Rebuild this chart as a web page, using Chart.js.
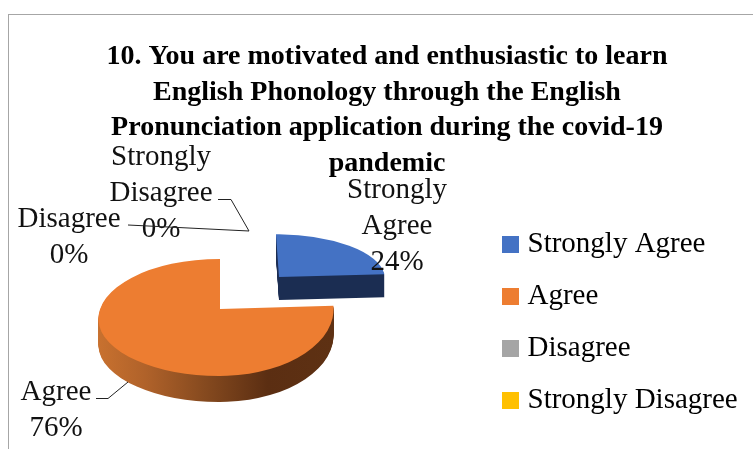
<!DOCTYPE html>
<html>
<head>
<meta charset="utf-8">
<script src="https://cdn.jsdelivr.net/npm/chart.js@4/dist/chart.umd.min.js"></script>
<style>
  body { margin: 0; background: #fff; }
  #wrap { position: relative; width: 753px; height: 449px; overflow: hidden; }
  #frame { position: absolute; left: 8px; top: 14px; right: -5px; bottom: -5px;
           border-top: 1px solid #a6a6a6; border-left: 1px solid #a6a6a6; }
  canvas { position: absolute; left: 0; top: 0; }
</style>
</head>
<body>
<div id="wrap">
  <canvas id="myChart" width="753" height="449"></canvas>
  <div id="frame"></div>
</div>
<script>
var categories = ['Strongly Agree', 'Agree', 'Disagree', 'Strongly Disagree'];
var values = [24, 76, 0, 0];
var colors = ['#4472c4', '#ed7d31', '#a5a5a5', '#ffc000'];
var titleLines = [
  '10. You are motivated and enthusiastic to learn',
  'English Phonology through the English',
  'Pronunciation application during the covid-19',
  'pandemic'
];

var serif = '"Liberation Serif", serif';
var labelSize = 29;
var lineGap = 36;

// fake 3d: every slice is shifted, flattened and extruded (per slice, fractions of radius)
var shiftX = [34, -25, 0, 0];
var shiftY = [-50, -18, 0, 0];
var scaleLeft = [0.87, 1, 1, 1];
var scaleRight = [0.87, 0.934, 1, 1];
var scaleUpLeft = [0.352, 0.494, 1, 1];
var scaleDownLeft = [0.352, 0.469, 1, 1];
var scaleUpRight = [0.352, 0.41, 1, 1];
var scaleDownRight = [0.352, 0.55, 1, 1];
var pivotLeft = [0, 10, 0, 0]; // left half bulges lower down, perspective look
var shear = [0.025, 0, 0, 0];
var depth = [23, 26, 0, 0];
var sideStops = [
  [[0, '#1b2d52'], [1, '#1b2d52']],
  [[0, '#c8712f'], [0.2, '#b0622a'], [0.45, '#864a1f'], [0.72, '#5b2e12'], [1, '#5e3113']]
];

// data label text blocks: centre x, first baseline
var labelX = [397, 56, 69, 161];
var labelY = [198, 400, 227, 165];
var labelWords = [['Strongly', 'Agree'], ['Agree'], ['Disagree'], ['Strongly', 'Disagree']];
var leaders = [
  [],
  [[96, 398.5], [108, 398.5], [128, 382]],
  [[128, 225], [249, 231]],
  [[218, 199.5], [231, 199.5], [249, 231]]
];

function drawSlice(chart, arc, i) {
  var ctx = chart.ctx;
  var ax = Math.round(arc.x + shiftX[i]);
  var ay = Math.round(arc.y + shiftY[i]);
  var saved = arc.options;
  var R = arc.outerRadius;

  function paint(dy, gradientStops) {
    [[-1, -1], [1, -1], [-1, 1], [1, 1]].forEach(function(q) {
      var isLeft = q[0] < 0;
      var sx = isLeft ? scaleLeft[i] : scaleRight[i];
      var sy = isLeft ? (q[1] < 0 ? scaleUpLeft[i] : scaleDownLeft[i])
                      : (q[1] < 0 ? scaleUpRight[i] : scaleDownRight[i]);
      var py = ay + (isLeft ? pivotLeft[i] : 0);
      ctx.save();
      ctx.beginPath();
      ctx.rect(isLeft ? ax - 400 : ax, (q[1] < 0 ? py - 400 : py) + dy, 400, 400);
      ctx.clip();
      ctx.translate(ax, py + dy);
      ctx.transform(sx, 0, shear[i], sy, 0, 0);
      ctx.translate(-arc.x, -arc.y);
      if (gradientStops) {
        // gradient runs over the whole width on screen, so undo the scale here
        var g = ctx.createLinearGradient(
          arc.x - R * scaleLeft[i] / sx, 0, arc.x + R * scaleRight[i] / sx, 0);
        gradientStops.forEach(function(s) { g.addColorStop(s[0], s[1]); });
        var o = Object.create(saved);
        o.backgroundColor = g;
        arc.options = o;
      }
      arc.draw(ctx);
      arc.options = saved;
      ctx.restore();
    });
  }

  for (var d = depth[i]; d >= 1; d--) {
    paint(d, sideStops[i]);
  }
  paint(0, null);
}

var pie3d = {
  id: 'pie3d',
  afterLayout: function(chart) {
    // legend sits under the title line, not at the very top
    var lg = chart.legend;
    var w = lg.width, h = lg.height;
    lg.left = 485;
    lg.right = lg.left + w;
    lg.top = 207;
    lg.bottom = lg.top + h;
    // title block is a bit right of the page centre
    chart.titleBlock.left += 10.5;
    chart.titleBlock.right += 10.5;
  },
  beforeDatasetsDraw: function(chart) {
    chart.getDatasetMeta(0).data.forEach(function(arc, i) {
      if (values[i] > 0) drawSlice(chart, arc, i);
    });
    return false;
  },
  afterDraw: function(chart) {
    var ctx = chart.ctx;
    var total = values.reduce(function(a, b) { return a + b; }, 0);
    ctx.save();
    ctx.fillStyle = '#111';
    ctx.font = labelSize + 'px ' + serif;
    ctx.textAlign = 'center';
    ctx.textBaseline = 'alphabetic';
    values.forEach(function(v, i) {
      var lines = labelWords[i].concat(Math.round(v / total * 100) + '%');
      lines.forEach(function(t, k) {
        ctx.fillText(t, labelX[i], labelY[i] + k * lineGap);
      });
    });
    ctx.strokeStyle = '#222';
    ctx.lineWidth = 1;
    leaders.forEach(function(pts) {
      if (!pts.length) return;
      ctx.beginPath();
      pts.forEach(function(p, k) {
        if (k === 0) ctx.moveTo(p[0], p[1]); else ctx.lineTo(p[0], p[1]);
      });
      ctx.stroke();
    });
    ctx.restore();
  }
};

var myChart = new Chart(document.getElementById('myChart'), {
  type: 'pie',
  data: {
    labels: categories,
    datasets: [{ data: values, backgroundColor: colors, borderWidth: 0 }]
  },
  plugins: [pie3d],
  options: {
    responsive: false,
    animation: false,
    plugins: {
      tooltip: { enabled: false },
      title: {
        display: true,
        text: titleLines,
        color: '#000',
        font: { family: serif, size: 28, weight: 'bold', lineHeight: 35.7 / 28 },
        padding: { top: 39, bottom: 24 }
      },
      legend: {
        position: 'right',
        align: 'start',
        labels: {
          color: '#111',
          font: { family: serif, size: labelSize },
          boxWidth: 5,
          boxHeight: 5,
          padding: 23,
          generateLabels: function(chart) {
            return categories.map(function(name, i) {
              return { text: name, fillStyle: colors[i], strokeStyle: colors[i], lineWidth: 12, index: i };
            });
          }
        }
      }
    }
  }
});
</script>
</body>
</html>
